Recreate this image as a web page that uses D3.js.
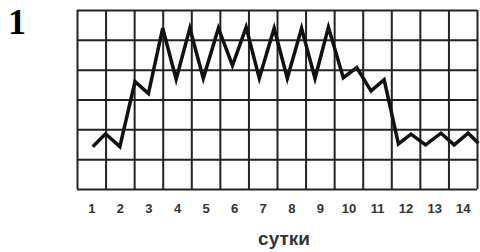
<html>

<head>
    <meta charset="utf-8">
    <script src="https://d3js.org/d3.v7.min.js"></script>
    <style>
        body { margin: 0; background: #fff; }
    </style>
</head>

<body>
    <svg id="chart" width="480" height="252"></svg>
    <script>
        // day labels under the columns
        const dayLabels = [1, 2, 3, 4, 5, 6, 7, 8, 9, 10, 11, 12, 13, 14];
        // line points: position along the day axis (0 = left border) and level in grid rows
        const tDays = [0.55, 1.0, 1.5, 2.03, 2.5, 3.0, 3.47, 3.95, 4.42, 4.95, 5.44, 5.92, 6.38, 6.9, 7.36,
            7.86, 8.33, 8.8, 9.32, 9.79, 10.29, 10.75, 11.25, 11.69, 12.2, 12.74, 13.2, 13.69, 14.05];
        const tLevel = [1.42, 1.85, 1.42, 3.6, 3.2, 5.39, 3.68, 5.39, 3.71, 5.39, 4.14, 5.42, 3.71, 5.39, 3.71,
            5.39, 3.71, 5.42, 3.73, 4.07, 3.29, 3.66, 1.51, 1.84, 1.48, 1.87, 1.48, 1.87, 1.53];
        const rows = [0, 1, 2, 3, 4, 5, 6];
        const cols = d3.range(0, 15);

        const svg = d3.select("#chart");
        const margins = { "top": 10, "right": 3, "bottom": 63, "left": 77 };
        const width = +svg.attr("width");
        const height = +svg.attr("height");

        const x = d3.scaleLinear().domain([0, 14]).range([margins.left, width - margins.right]);
        const y = d3.scaleLinear().domain([0, 6]).range([height - margins.bottom, margins.top]);

        // grid
        const vGrid = d3.axisBottom(x).tickValues(cols)
            .tickSize(-(y(0) - y(6))).tickFormat("");
        svg.append("g")
            .attr("class", "grid")
            .attr("transform", "translate(0," + y(0) + ")")
            .call(vGrid);

        const hGrid = d3.axisLeft(y).tickValues(rows)
            .tickSize(-(x(14) - x(0))).tickFormat("");
        svg.append("g")
            .attr("class", "grid")
            .attr("transform", "translate(" + x(0) + ",0)")
            .call(hGrid);

        svg.selectAll(".grid .domain").remove();
        svg.selectAll(".grid line")
            .attr("stroke", "#222")
            .attr("stroke-width", 2);

        // day labels, centred in the columns
        const labelAxis = d3.axisBottom(x)
            .tickValues(dayLabels.map(d => d - 0.5))
            .tickSize(0)
            .tickFormat((d, i) => dayLabels[i]);
        const lab = svg.append("g")
            .attr("transform", "translate(0," + (y(0) + 12) + ")")
            .call(labelAxis);
        lab.select(".domain").remove();
        lab.selectAll("text")
            .attr("font-family", "Liberation Sans, Arial, sans-serif")
            .attr("font-weight", "bold")
            .attr("font-size", 13)
            .attr("fill", "#333");

        // the line
        const pts = tDays.map((d, i) => [d, tLevel[i]]);
        const line = d3.line().x(d => x(d[0])).y(d => y(d[1]));
        svg.append("path")
            .datum(pts)
            .attr("d", line)
            .attr("fill", "none")
            .attr("stroke", "#111")
            .attr("stroke-width", 3.5)
            .attr("stroke-linejoin", "miter");

        // axis title
        svg.append("text")
            .attr("x", 284)
            .attr("y", 245)
            .attr("text-anchor", "middle")
            .attr("font-family", "Liberation Sans, Arial, sans-serif")
            .attr("font-weight", "bold")
            .attr("font-size", 19)
            .attr("fill", "#333")
            .text("сутки");

        // task number
        svg.append("text")
            .attr("x", 8)
            .attr("y", 34)
            .attr("font-family", "Liberation Serif, Times New Roman, serif")
            .attr("font-weight", "bold")
            .attr("font-size", 36)
            .attr("fill", "#000")
            .text("1");
    </script>
</body>

</html>
